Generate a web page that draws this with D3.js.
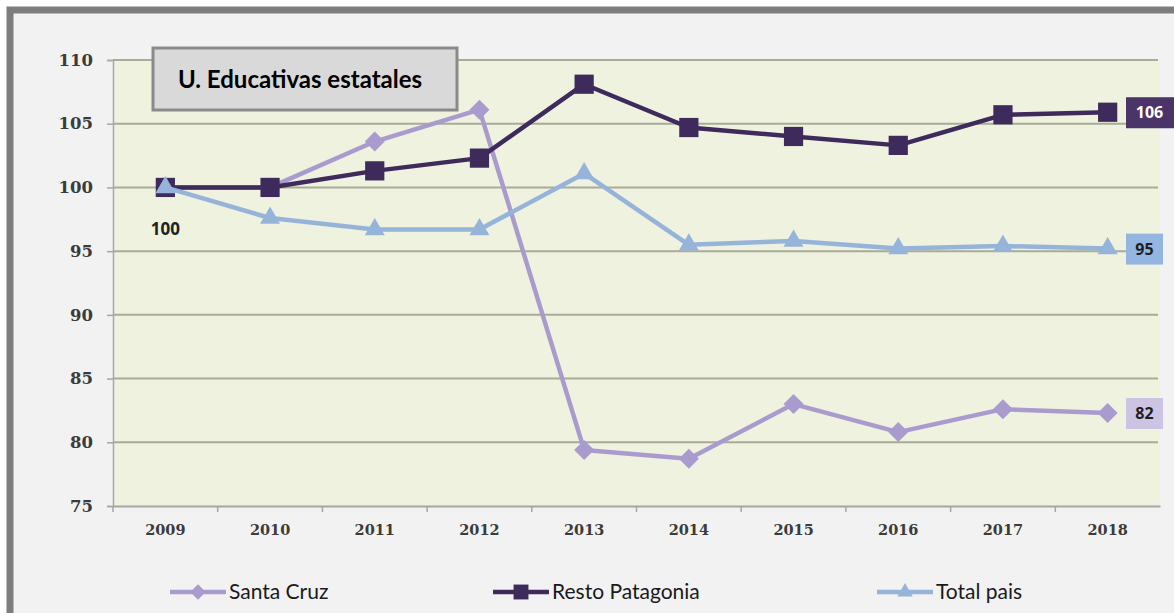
<!DOCTYPE html>
<html>
<head>
<meta charset="utf-8">
<script src="https://cdn.jsdelivr.net/npm/d3@7"></script>
<style>
  body { margin: 0; background: #ffffff; }
  svg { display: block; }
</style>
</head>
<body>
<svg id="chart" width="1174" height="613"></svg>
<script>
// chart data
const years = ['2009', '2010', '2011', '2012', '2013', '2014', '2015', '2016', '2017', '2018'];
const santaCruz = [100, 100, 103.6, 106.1, 79.4, 78.7, 83.0, 80.8, 82.6, 82.3];
const restoPatagonia = [100, 100, 101.3, 102.3, 108.1, 104.7, 104.0, 103.3, 105.7, 105.9];
const totalPais = [100, 97.6, 96.7, 96.7, 101.1, 95.5, 95.8, 95.2, 95.4, 95.2];
const yTicks = [75, 80, 85, 90, 95, 100, 105, 110];
const seriesNames = ['Santa Cruz', 'Resto Patagonia', 'Total pais'];
const endLabels = ['82', '106', '95'];
const chartTitle = 'U. Educativas estatales';

const colors = ['#aa9bcf', '#3e2a5b', '#96b4da'];
const labelFills = ['#cdc3e2', '#4a3468', '#93b5df'];
const labelText = ['#1e1e1e', '#ffffff', '#1e1e1e'];
const symbols = [d3.symbolDiamond2, d3.symbolSquare2, d3.symbolTriangle2];

const svg = d3.select('#chart');

// outer frame (only top and left edges are in view)
svg.append('rect')
  .attr('x', 10).attr('y', 10)
  .attr('width', 1240).attr('height', 700)
  .attr('fill', '#f2f2f2')
  .attr('stroke', '#7d7d7d')
  .attr('stroke-width', 7);

const plot = { left: 113, right: 1160, top: 60, bottom: 506 };

const x = d3.scaleBand().domain(years).range([plot.left, plot.right]);
const y = d3.scaleLinear().domain([75, 110]).range([plot.bottom, plot.top]);
const cx = d => x(d) + x.bandwidth() / 2;

// plot area
svg.append('rect')
  .attr('x', plot.left).attr('y', plot.top)
  .attr('width', plot.right - plot.left).attr('height', plot.bottom - plot.top)
  .attr('fill', '#eef2df');

// gridlines
svg.append('g')
  .selectAll('line')
  .data(yTicks.filter(t => t > 75))
  .join('line')
  .attr('x1', plot.left).attr('x2', plot.right - 2)
  .attr('y1', d => y(d)).attr('y2', d => y(d))
  .attr('stroke', '#a9ab97')
  .attr('stroke-width', 2);

// y axis
const yAxis = svg.append('g')
  .attr('transform', `translate(${plot.left},0)`)
  .call(d3.axisLeft(y).tickValues(yTicks).tickSize(6).tickPadding(14));
yAxis.select('.domain').attr('stroke', '#a6a6a6').attr('stroke-width', 1.5);
yAxis.selectAll('.tick line').attr('stroke', '#a6a6a6').attr('stroke-width', 1.5);
yAxis.selectAll('.tick text')
  .attr('font-family', 'DejaVu Serif')
  .attr('font-weight', 'bold')
  .attr('font-size', 16.5)
  .attr('fill', '#3b3b3b');

// x axis: ticks sit between the categories
const xAxis = svg.append('g')
  .attr('transform', `translate(0,${plot.bottom})`)
  .call(d3.axisBottom(x).tickSize(0).tickPadding(19));
xAxis.select('.domain').attr('stroke', '#a6a6a6').attr('stroke-width', 2);
xAxis.selectAll('.tick text')
  .attr('font-family', 'DejaVu Serif')
  .attr('font-weight', 'bold')
  .attr('font-size', 14.5)
  .attr('fill', '#3b3b3b');
svg.append('g')
  .selectAll('line')
  .data(years)
  .join('line')
  .attr('x1', d => x(d)).attr('x2', d => x(d))
  .attr('y1', plot.bottom).attr('y2', plot.bottom + 6)
  .attr('stroke', '#a6a6a6')
  .attr('stroke-width', 1.5);

// series
const allSeries = [santaCruz, restoPatagonia, totalPais];
const symbolSizes = [255, 470, 285];
const line = d3.line().x((d, i) => cx(years[i])).y(d => y(d));

allSeries.forEach((vals, s) => {
  const g = svg.append('g');
  g.append('path')
    .datum(vals)
    .attr('d', line)
    .attr('fill', 'none')
    .attr('stroke', colors[s])
    .attr('stroke-width', 4.5)
    .attr('stroke-linejoin', 'round');
  g.selectAll('path.mk')
    .data(vals)
    .join('path')
    .attr('class', 'mk')
    .attr('transform', (d, i) => `translate(${cx(years[i])},${y(d)})`)
    .attr('d', d3.symbol().type(symbols[s]).size(symbolSizes[s]))
    .attr('fill', colors[s]);
});

// start label
svg.append('text')
  .attr('x', cx(years[0]))
  .attr('y', y(totalPais[0]) + 48)
  .attr('text-anchor', 'middle')
  .attr('font-family', 'Open Sans, sans-serif')
  .attr('font-weight', 'bold')
  .attr('font-size', 17)
  .attr('fill', '#222')
  .text('100');

// end labels
const lastVals = [santaCruz[9], restoPatagonia[9], totalPais[9]];
const boxW = [37, 48, 37];
lastVals.forEach((v, s) => {
  const bx = 1126, by = y(v) - 15;
  svg.append('rect')
    .attr('x', bx).attr('y', by)
    .attr('width', boxW[s]).attr('height', 31)
    .attr('fill', labelFills[s]);
  svg.append('text')
    .attr('x', bx + 18.5 + (s === 1 ? 5 : 0))
    .attr('y', y(v) + 6)
    .attr('text-anchor', 'middle')
    .attr('font-family', 'Open Sans, sans-serif')
    .attr('font-weight', 'bold')
    .attr('font-size', 16)
    .attr('fill', labelText[s])
    .text(endLabels[s]);
});

// title box
svg.append('rect')
  .attr('x', 153).attr('y', 48)
  .attr('width', 304).attr('height', 62)
  .attr('fill', '#d9d9d9')
  .attr('stroke', '#8a8a8a')
  .attr('stroke-width', 3);
svg.append('text')
  .attr('x', 300).attr('y', 88)
  .attr('text-anchor', 'middle')
  .attr('font-family', 'Lato, sans-serif')
  .attr('font-weight', 'bold')
  .attr('font-size', 24)
  .attr('fill', '#000')
  .text(chartTitle);

// legend
const legendX = [170, 493, 877];
seriesNames.forEach((name, s) => {
  const g = svg.append('g').attr('transform', `translate(${legendX[s]},592)`);
  g.append('line')
    .attr('x1', 0).attr('x2', 56)
    .attr('stroke', colors[s]).attr('stroke-width', 4.5);
  g.append('path')
    .attr('transform', 'translate(28,0)')
    .attr('d', d3.symbol().type(symbols[s]).size(symbolSizes[s] * 0.6))
    .attr('fill', colors[s]);
  g.append('text')
    .attr('x', 59).attr('y', 7)
    .attr('font-family', 'Lato, sans-serif')
    .attr('font-size', 21)
    .attr('fill', '#1a1a1a')
    .text(name);
});
</script>
</body>
</html>
